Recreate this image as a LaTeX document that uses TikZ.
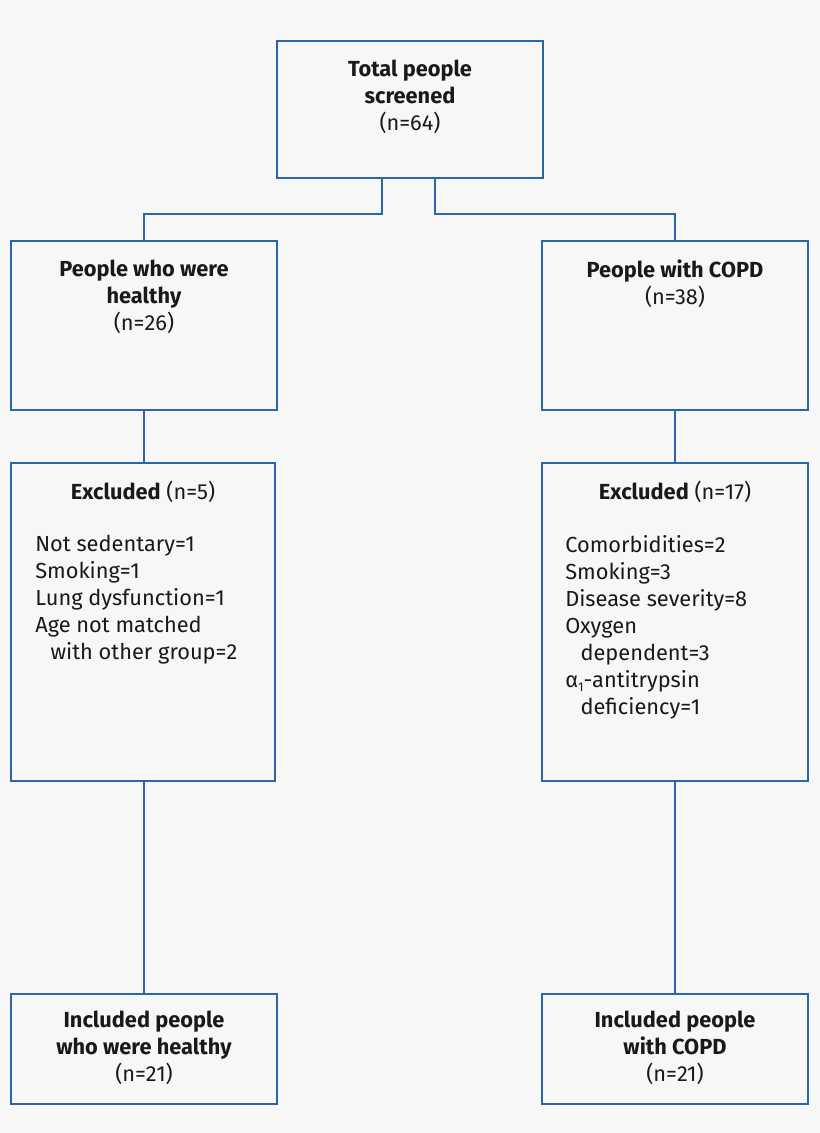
\documentclass[tikz,border=0pt]{standalone}
\usepackage{fontspec}
\setmainfont{Fira Sans}
\definecolor{boxblue}{HTML}{2B67A6}
\definecolor{bggray}{HTML}{F7F7F7}
\begin{document}
\begin{tikzpicture}[x=0.025cm,y=-0.025cm]
    \tikzstyle{box}=[draw=boxblue, line width=1.3pt, inner sep=0pt]
    \tikzstyle{txt}=[inner sep=0pt, anchor=north, text=black!90, font=\fontsize{15.5}{19.2}\selectfont]
    \tikzstyle{link}=[draw=boxblue, line width=1.3pt]
    \fill[bggray] (0,0) rectangle (820,1133);
    \useasboundingbox (0,0) rectangle (820,1133);

    \node[box, minimum width=266*0.025cm, minimum height=137*0.025cm] (top) at (410,109.5) {};
    \node[box, minimum width=266*0.025cm, minimum height=169*0.025cm] (healthy) at (144,325.5) {};
    \node[box, minimum width=266*0.025cm, minimum height=169*0.025cm] (copd) at (675,325.5) {};
    \node[box, minimum width=264*0.025cm, minimum height=318*0.025cm] (exclH) at (143,622) {};
    \node[box, minimum width=266*0.025cm, minimum height=318*0.025cm] (exclC) at (675,622) {};
    \node[box, minimum width=266*0.025cm, minimum height=110*0.025cm] (inclH) at (144,1049) {};
    \node[box, minimum width=266*0.025cm, minimum height=110*0.025cm] (inclC) at (675,1049) {};

    \node[txt, align=center] (topT) at (410,60) {\textbf{Total people}\\\textbf{screened}\\(n=64)};
    \node[txt, align=center] (healthyT) at (144,260) {\textbf{People who were}\\\textbf{healthy}\\(n=26)};
    \node[txt, align=center] (copdT) at (675,260) {\textbf{People with COPD}\\(n=38)};
    \node[txt] (exclHT) at (143,481) {\textbf{Excluded} (n=5)};
    \node[txt] (exclCT) at (675,481) {\textbf{Excluded} (n=17)};
    \node[txt, anchor=north west, align=left] (exclHL) at (35,535) {Not sedentary=1\\Smoking=1\\Lung dysfunction=1\\Age not matched\\\hspace{0.7em}with other group=2};
    \node[txt, anchor=north west, align=left] (exclCL) at (565,535) {Comorbidities=2\\Smoking=3\\Disease severity=8\\Oxygen\\\hspace{0.7em}dependent=3\\α\raisebox{-0.35ex}{\small 1}-antitrypsin\\\hspace{0.7em}deficiency=1};
    \node[txt, align=center] (inclHT) at (144,1011) {\textbf{Included people}\\\textbf{who were healthy}\\(n=21)};
    \node[txt, align=center] (inclCT) at (675,1011) {\textbf{Included people}\\\textbf{with COPD}\\(n=21)};

    \draw[link] (top.south -| 382,0) |- (144,214) -- (healthy.north);
    \draw[link] (top.south -| 435,0) |- (675,214) -- (copd.north);
    \draw[link] (healthy.south) -- (exclH.north -| healthy.south);
    \draw[link] (copd.south) -- (exclC.north);
    \draw[link] (exclH.south -| inclH.north) -- (inclH.north);
    \draw[link] (exclC.south) -- (inclC.north);
\end{tikzpicture}
\end{document}
